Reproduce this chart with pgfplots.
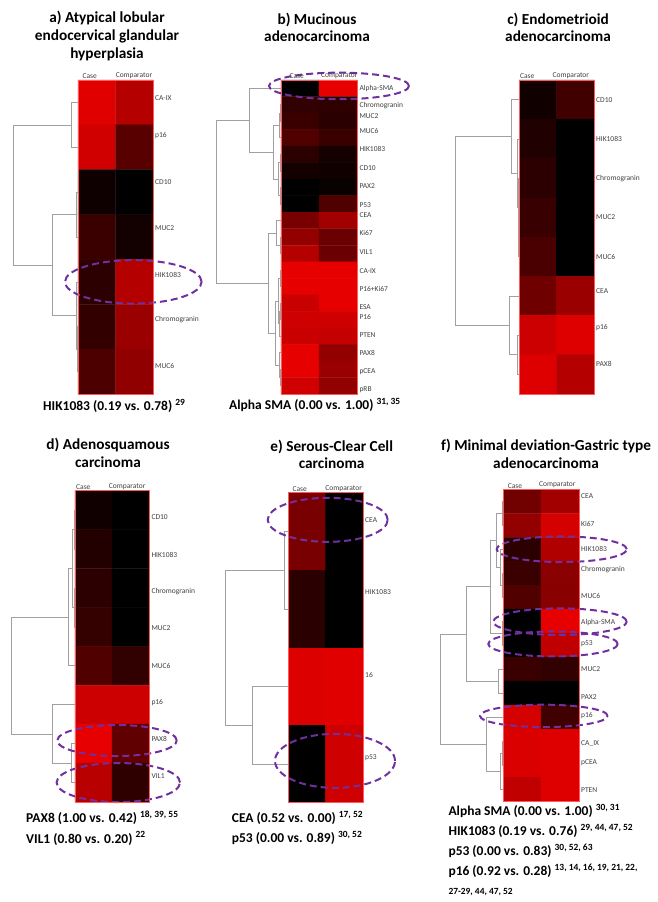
\documentclass[border=0pt]{standalone}
\usepackage{fontspec}
\setmainfont{Carlito}
\usepackage{pgfplots}
\pgfplotsset{compat=1.18}
\definecolor{ellc}{HTML}{7030A0}
\definecolor{dendc}{HTML}{A0A0A0}
\definecolor{labc}{HTML}{404040}
\tikzset{
  dend/.style={draw=dendc, line width=0.7pt},
  ell/.style={draw=ellc, line width=2pt, dash pattern=on 7pt off 4pt}
}
\pgfplotsset{
  heat/.style={scale only axis, y dir=reverse, clip=false, axis on top,
    axis line style={draw=red!65, line width=0.5pt},
    xticklabel pos=upper, yticklabel pos=right,
    major tick length=0pt, tick style={draw=none},
    colormap={rb}{rgb255(0cm)=(0,0,0); rgb255(1cm)=(230,0,0)},
    point meta min=0, point meta max=1,
    xticklabel style={font=\fontsize{7.5}{8}\selectfont, text=labc, inner sep=1pt},
    yticklabel style={font=\fontsize{7.5}{8}\selectfont, text=labc, inner sep=2pt},
    enlargelimits=false}
}
\newcommand{\lk}[5]{\addplot[dend, no marks] coordinates {(#2,#1) (#3,#1) (#3,#4) (#5,#4)};}
\newcommand{\ttl}{\bfseries\fontsize{15.3}{17.7}\selectfont}
\newcommand{\ann}{\bfseries\fontsize{13.5}{16}\selectfont}
\begin{document}
\begin{tikzpicture}
\useasboundingbox (0pt,0pt) rectangle (657pt,-902pt);
% titles
\node[font=\ttl, align=center] at (107pt,-36pt) {a) Atypical lobular\\endocervical glandular\\hyperplasia};
\node[font=\ttl, align=center] at (317pt,-27.5pt) {b) Mucinous\\adenocarcinoma};
\node[font=\ttl, align=center] at (558pt,-27.5pt) {c) Endometrioid\\adenocarcinoma};
\node[font=\ttl, align=center] at (108pt,-453pt) {d) Adenosquamous\\carcinoma};
\node[font=\ttl, align=center] at (331.7pt,-454.5pt) {e) Serous-Clear Cell\\carcinoma};
\node[font=\ttl, align=center] at (546pt,-454pt) {f) Minimal deviation-Gastric type\\adenocarcinoma};
% annotations
\node[font=\ann, anchor=west, inner sep=0pt] at (43pt,-406pt) {HIK1083 (0.19 vs. 0.78)~\textsuperscript{29}};
\node[font=\ann, anchor=west, inner sep=0pt] at (229pt,-405pt) {Alpha SMA (0.00 vs. 1.00)~\textsuperscript{31, 35}};
\node[font=\ann, anchor=west, inner sep=0pt] at (26pt,-818pt) {PAX8 (1.00 vs. 0.42)~\textsuperscript{18, 39, 55}};
\node[font=\ann, anchor=west, inner sep=0pt] at (26pt,-838.3pt) {VIL1 (0.80 vs. 0.20)~\textsuperscript{22}};
\node[font=\ann, anchor=west, inner sep=0pt] at (231.7pt,-818.3pt) {CEA (0.52 vs. 0.00)~\textsuperscript{17, 52}};
\node[font=\ann, anchor=west, inner sep=0pt] at (231.7pt,-838pt) {p53 (0.00 vs. 0.89)~\textsuperscript{30, 52}};
\node[font=\ann, anchor=west, inner sep=0pt] at (448.3pt,-810.7pt) {Alpha SMA (0.00 vs. 1.00)~\textsuperscript{30, 31}};
\node[font=\ann, anchor=west, inner sep=0pt] at (448.3pt,-830.7pt) {HIK1083 (0.19 vs. 0.76)~\textsuperscript{29, 44, 47, 52}};
\node[font=\ann, anchor=west, inner sep=0pt] at (448.3pt,-850.7pt) {p53 (0.00 vs. 0.83)~\textsuperscript{30, 52, 63}};
\node[font=\ann, anchor=west, inner sep=0pt] at (448.3pt,-870.7pt) {p16 (0.92 vs. 0.28)~\textsuperscript{13, 14, 16, 19, 21, 22,}};
\node[font=\bfseries\fontsize{9.4}{11}\selectfont, anchor=west, inner sep=0pt] at (448.3pt,-891.7pt) {27-29, 44, 47, 52};

% ---------- a ----------
\begin{axis}[heat, at={(78pt,-80pt)}, anchor=north west, width=75pt, height=314pt,
  xmin=78, xmax=153, ymin=-0.5, ymax=6.5,
  xtick={89.7,134}, xticklabels={Case,Comparator},
  ytick={-0.1,0.73,1.78,2.8,3.84,4.85,5.87},
  yticklabels={CA-IX,p16,CD10,MUC2,HIK1083,Chromogranin,MUC6}]
\addplot[matrix plot*, mesh/cols=2, point meta=explicit] table[meta=c] {
x y c
96.75 0 0.97
134.25 0 0.78
96.75 1 0.90
134.25 1 0.38
96.75 2 0.06
134.25 2 0.00
96.75 3 0.25
134.25 3 0.08
96.75 4 0.19
134.25 4 0.78
96.75 5 0.22
134.25 5 0.67
96.75 6 0.33
134.25 6 0.62
};
\lk{0}{78}{71}{1}{78}
\lk{2}{78}{76}{3}{78}
\lk{5}{78}{77}{6}{78}
\lk{4}{78}{76}{5.5}{77}
\lk{2.5}{76}{52}{4.75}{76}
\lk{0.5}{71}{13}{3.625}{52}
\draw[ell] (axis cs:133.3,4) ellipse [x radius=68.3pt, y radius=21.7pt];
\end{axis}

% ---------- b ----------
\begin{axis}[heat, at={(281pt,-80pt)}, anchor=north west, width=76.3pt, height=314pt,
  xmin=281, xmax=357.3, ymin=-0.5, ymax=18.5,
  xtick={296.7,339.3}, xticklabels={Case,Comparator},
  ytick={0,1.07,1.67,2.56,3.69,4.8,5.91,7.06,7.66,8.77,9.92,11.05,12.15,13.24,13.81,14.92,16.03,17.17,18.24},
  yticklabels={Alpha-SMA,Chromogranin,MUC2,MUC6,HIK1083,CD10,PAX2,P53,CEA,Ki67,VIL1,CA-IX,P16+Ki67,ESA,P16,PTEN,PAX8,pCEA,pRB}]
\addplot[matrix plot*, mesh/cols=2, point meta=explicit] table[meta=c] {
x y c
300.08 0 0.00
338.23 0 1.00
300.08 1 0.21
338.23 1 0.20
300.08 2 0.25
338.23 2 0.18
300.08 3 0.35
338.23 3 0.25
300.08 4 0.18
338.23 4 0.09
300.08 5 0.09
338.23 5 0.07
300.08 6 0.00
338.23 6 0.04
300.08 7 0.00
338.23 7 0.35
300.08 8 0.52
338.23 8 0.70
300.08 9 0.63
338.23 9 0.46
300.08 10 0.78
338.23 10 0.46
300.08 11 1.00
338.23 11 1.00
300.08 12 1.00
338.23 12 1.00
300.08 13 0.87
338.23 13 1.00
300.08 14 0.89
338.23 14 0.89
300.08 15 0.87
338.23 15 0.85
300.08 16 1.00
338.23 16 0.63
300.08 17 1.00
338.23 17 0.67
300.08 18 0.90
338.23 18 0.63
};
\lk{1}{281}{280}{2}{281}
\lk{1.5}{280}{279.5}{3}{281}
\lk{4}{281}{280}{5}{281}
\lk{6}{281}{280.3}{7}{281}
\lk{4.5}{280}{278.7}{6.5}{280.3}
\lk{2.25}{279.5}{273.7}{5.5}{278.7}
\lk{0}{281}{249.3}{3.875}{273.7}
\lk{9}{281}{280.3}{10}{281}
\lk{8}{281}{276.3}{9.5}{280.3}
\lk{11}{281}{280.5}{12}{281}
\lk{13}{281}{280}{14}{281}
\lk{13.5}{280}{279}{15}{281}
\lk{11.5}{280.5}{278}{14.25}{279}
\lk{17}{281}{280}{18}{281}
\lk{16}{281}{279}{17.5}{280}
\lk{12.875}{278}{275.3}{16.75}{279}
\lk{8.75}{276.3}{268}{14.81}{275.3}
\lk{1.94}{249.3}{216}{11.78}{268}
\draw[ell] (axis cs:339,-0.14) ellipse [x radius=70pt, y radius=13.3pt];
\end{axis}

% ---------- c ----------
\begin{axis}[heat, at={(519.3pt,-80pt)}, anchor=north west, width=74.7pt, height=314pt,
  xmin=519.3, xmax=594, ymin=-0.5, ymax=7.5,
  xtick={527.2,570.8}, xticklabels={Case,Comparator},
  ytick={0,1,2,3,4,4.87,5.8,6.74},
  yticklabels={CD10,HIK1083,Chromogranin,MUC2,MUC6,CEA,p16,PAX8}]
\addplot[matrix plot*, mesh/cols=2, point meta=explicit] table[meta=c] {
x y c
538.0 0 0.07
575.3 0 0.28
538.0 1 0.14
575.3 1 0.00
538.0 2 0.19
575.3 2 0.00
538.0 3 0.24
575.3 3 0.00
538.0 4 0.32
575.3 4 0.00
538.0 5 0.48
575.3 5 0.67
538.0 6 0.88
575.3 6 0.96
538.0 7 0.96
575.3 7 0.78
};
\lk{3}{519.3}{518.8}{4}{519.3}
\lk{2}{519.3}{518.3}{3.5}{518.8}
\lk{1}{519.3}{517.7}{2.75}{518.3}
\lk{0}{519.3}{511}{1.875}{517.7}
\lk{6}{519.3}{517.7}{7}{519.3}
\lk{5}{519.3}{509}{6.5}{517.7}
\lk{0.94}{511}{455.7}{5.75}{509}
\end{axis}

% ---------- d ----------
\begin{axis}[heat, at={(75pt,-490.7pt)}, anchor=north west, width=74.3pt, height=311.3pt,
  xmin=75, xmax=149.3, ymin=-0.5, ymax=7.5,
  xtick={83.3,127.2}, xticklabels={Case,Comparator},
  ytick={0.19,1.15,2.1,3.03,4,4.95,5.89,6.83},
  yticklabels={CD10,HIK1083,Chromogranin,MUC2,MUC6,p16,PAX8,VIL1}]
\addplot[matrix plot*, mesh/cols=2, point meta=explicit] table[meta=c] {
x y c
93.6 0 0.07
130.7 0 0.00
93.6 1 0.15
130.7 1 0.00
93.6 2 0.19
130.7 2 0.00
93.6 3 0.23
130.7 3 0.00
93.6 4 0.35
130.7 4 0.21
93.6 5 0.88
130.7 5 0.88
93.6 6 1.00
130.7 6 0.42
93.6 7 0.80
130.7 7 0.20
};
\lk{0}{75}{74}{1}{75}
\lk{2}{75}{74}{3}{75}
\lk{0.5}{74}{72.7}{2.5}{74}
\lk{1.5}{72.7}{68.3}{4}{75}
\lk{6}{75}{71.7}{7}{75}
\lk{5}{75}{52.3}{6.5}{71.7}
\lk{2.75}{68.3}{11.7}{5.75}{52.3}
\draw[ell] (axis cs:117,5.92) ellipse [x radius=59.7pt, y radius=15.5pt];
\draw[ell] (axis cs:118.3,7) ellipse [x radius=61.7pt, y radius=19.5pt];
\end{axis}

% ---------- e ----------
\begin{axis}[heat, at={(288.3pt,-492.7pt)}, anchor=north west, width=74.7pt, height=310pt,
  xmin=288.3, xmax=363, ymin=-0.5, ymax=3.5,
  xtick={299.7,343.7}, xticklabels={Case,Comparator},
  ytick={-0.15,0.78,1.85,2.92},
  yticklabels={CEA,HIK1083,16,p53}]
\addplot[matrix plot*, mesh/cols=2, point meta=explicit] table[meta=c] {
x y c
307.0 0 0.52
344.3 0 0.00
307.0 1 0.18
344.3 1 0.00
307.0 2 0.95
344.3 2 0.97
307.0 3 0.00
344.3 3 0.89
};
\lk{0}{288.3}{284}{1}{288.3}
\lk{2}{288.3}{252.7}{3}{288.3}
\lk{0.5}{284}{225.7}{2.5}{252.7}
\draw[ell] (axis cs:327.7,-0.15) ellipse [x radius=60pt, y radius=22pt];
\draw[ell] (axis cs:335,2.96) ellipse [x radius=60pt, y radius=27pt];
\end{axis}

% ---------- f ----------
\begin{axis}[heat, at={(503.3pt,-489.3pt)}, anchor=north west, width=75.7pt, height=311.7pt,
  xmin=503.3, xmax=579, ymin=-0.5, ymax=12.5,
  xtick={515,557.3}, xticklabels={Case,Comparator},
  ytick={-0.22,0.94,2,2.86,3.97,5.06,5.92,7,8.17,8.92,10.11,10.89,12.03},
  yticklabels={CEA,Ki67,HIK1083,Chromogranin,MUC6,Alpha-SMA,p53,MUC2,PAX2,p16,CA\_IX,pCEA,PTEN}]
\addplot[matrix plot*, mesh/cols=2, point meta=explicit] table[meta=c] {
x y c
522.2 0 0.49
560.1 0 0.70
522.2 1 0.63
560.1 1 0.92
522.2 2 0.19
560.1 2 0.76
522.2 3 0.25
560.1 3 0.60
522.2 4 0.35
560.1 4 0.59
522.2 5 0.00
560.1 5 1.00
522.2 6 0.00
560.1 6 0.83
522.2 7 0.25
560.1 7 0.21
522.2 8 0.00
560.1 8 0.00
522.2 9 0.92
560.1 9 0.28
522.2 10 0.94
560.1 10 0.96
522.2 11 0.94
560.1 11 0.96
522.2 12 0.83
560.1 12 0.96
};
\lk{0}{503.3}{502.7}{1}{503.3}
\lk{3}{503.3}{502}{4}{503.3}
\lk{2}{503.3}{500}{3.5}{502}
\lk{0.5}{502.7}{496.7}{2.75}{500}
\lk{5}{503.3}{502.7}{6}{503.3}
\lk{1.625}{496.7}{490.3}{5.5}{502.7}
\lk{7}{503.3}{498.3}{8}{503.3}
\lk{3.56}{490.3}{466}{7.5}{498.3}
\lk{10}{503.3}{502}{11}{503.3}
\lk{10.5}{502}{500}{12}{503.3}
\lk{9}{503.3}{486.7}{11.25}{500}
\lk{5.53}{466}{440}{10.125}{486.7}
\draw[ell] (axis cs:561.7,2) ellipse [x radius=65pt, y radius=12.8pt];
\draw[ell] (axis cs:560,5.02) ellipse [x radius=66.7pt, y radius=13.3pt];
\draw[ell] (axis cs:553,5.95) ellipse [x radius=64.7pt, y radius=12.5pt];
\draw[ell] (axis cs:543.8,8.95) ellipse [x radius=63.8pt, y radius=11.2pt];
\end{axis}
\end{tikzpicture}
\end{document}
